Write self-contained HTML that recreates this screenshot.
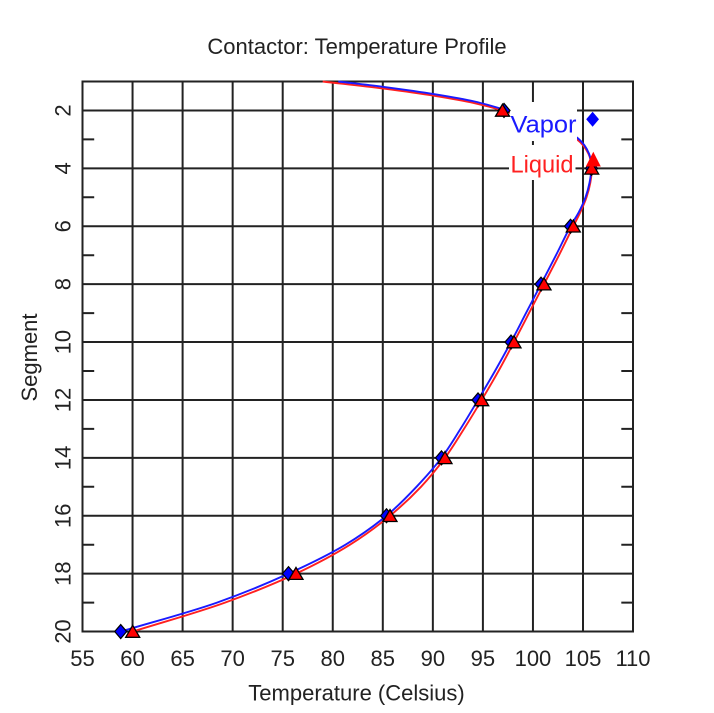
<!DOCTYPE html>
<html><head><meta charset="utf-8"><style>
html,body{margin:0;padding:0;background:#fff;}
svg{display:block;}
text{font-family:"Liberation Sans",Arial,sans-serif;}
</style></head><body>
<svg id="chart" width="714" height="713" viewBox="0 0 714 713" xmlns="http://www.w3.org/2000/svg">
<rect width="714" height="713" fill="#fff"/>
<text x="357" y="54" font-size="22" text-anchor="middle" fill="#222">Contactor: Temperature Profile</text>
<g stroke="#222" stroke-width="2" fill="none">
<rect x="82.5" y="81.5" width="550.5" height="550"/>
<line x1="132.55" y1="81.5" x2="132.55" y2="631.5"/>
<line x1="182.6" y1="81.5" x2="182.6" y2="631.5"/>
<line x1="232.65" y1="81.5" x2="232.65" y2="631.5"/>
<line x1="282.7" y1="81.5" x2="282.7" y2="631.5"/>
<line x1="332.75" y1="81.5" x2="332.75" y2="631.5"/>
<line x1="382.8" y1="81.5" x2="382.8" y2="631.5"/>
<line x1="432.85" y1="81.5" x2="432.85" y2="631.5"/>
<line x1="482.9" y1="81.5" x2="482.9" y2="631.5"/>
<line x1="532.95" y1="81.5" x2="532.95" y2="631.5"/>
<line x1="583" y1="81.5" x2="583" y2="631.5"/>
<line x1="82.5" y1="110.45" x2="633" y2="110.45"/>
<line x1="82.5" y1="168.35" x2="633" y2="168.35"/>
<line x1="82.5" y1="226.25" x2="633" y2="226.25"/>
<line x1="82.5" y1="284.15" x2="633" y2="284.15"/>
<line x1="82.5" y1="342.05" x2="633" y2="342.05"/>
<line x1="82.5" y1="399.95" x2="633" y2="399.95"/>
<line x1="82.5" y1="457.85" x2="633" y2="457.85"/>
<line x1="82.5" y1="515.75" x2="633" y2="515.75"/>
<line x1="82.5" y1="573.65" x2="633" y2="573.65"/>
<path d="M82.5 139.4h11.7M82.5 197.3h11.7M82.5 255.2h11.7M82.5 313.1h11.7M82.5 371h11.7M82.5 428.9h11.7M82.5 486.8h11.7M82.5 544.7h11.7M82.5 602.6h11.7"/>
<path d="M621.3 139.4h11.7M621.3 197.3h11.7M621.3 255.2h11.7M621.3 313.1h11.7M621.3 371h11.7M621.3 428.9h11.7M621.3 486.8h11.7M621.3 544.7h11.7M621.3 602.6h11.7"/>
</g>
<g font-size="22" fill="#222" text-anchor="middle">
<text x="82.5" y="666">55</text>
<text x="132.55" y="666">60</text>
<text x="182.6" y="666">65</text>
<text x="232.65" y="666">70</text>
<text x="282.7" y="666">75</text>
<text x="332.75" y="666">80</text>
<text x="382.8" y="666">85</text>
<text x="432.85" y="666">90</text>
<text x="482.9" y="666">95</text>
<text x="532.95" y="666">100</text>
<text x="583" y="666">105</text>
<text x="633" y="666">110</text>
<text x="70.5" y="110.45" transform="rotate(-90 70.5 110.45)">2</text>
<text x="70.5" y="168.35" transform="rotate(-90 70.5 168.35)">4</text>
<text x="70.5" y="226.25" transform="rotate(-90 70.5 226.25)">6</text>
<text x="70.5" y="284.15" transform="rotate(-90 70.5 284.15)">8</text>
<text x="70.5" y="342.05" transform="rotate(-90 70.5 342.05)">10</text>
<text x="70.5" y="399.95" transform="rotate(-90 70.5 399.95)">12</text>
<text x="70.5" y="457.85" transform="rotate(-90 70.5 457.85)">14</text>
<text x="70.5" y="515.75" transform="rotate(-90 70.5 515.75)">16</text>
<text x="70.5" y="573.65" transform="rotate(-90 70.5 573.65)">18</text>
<text x="70.5" y="631.55" transform="rotate(-90 70.5 631.55)">20</text>
<text x="356.5" y="700.5">Temperature (Celsius)</text>
<text x="37" y="357.5" transform="rotate(-90 37 357.5)">Segment</text>
</g>
<g id="curves" fill="none" stroke-width="1.9" stroke-linejoin="round">
<polyline id="liq" stroke="#ff2020" points="322.7,81.5 384.6,88.74 435.2,95.98 474.6,103.21 502.6,110.45 545,124.9 577,139.4 588.5,153.9 591.7,168.35 590.3,182.8 586.5,197.3 580.5,211.8 573.3,226.25 559,255.2 544,284.15 529,313.1 514,342.05 498.5,371 481.7,399.95 464,428.9 445,457.85 421,486.8 390,515.75 350,544.7 296,573.65 225,602.6 132.7,631.55"/>
<polyline id="vap" stroke="#1a1aff" points="338.3,81.5 384.6,87.04 435.2,94.28 474.6,101.5 504.5,109.7 547,123.6 578,138.4 589,153.6 591.3,168.35 589.5,182.8 585.5,197.3 579,211.8 570.5,226.25 556,255.2 541,284.15 526,313.1 511,342.05 495,371 478,399.95 460.5,428.9 441.5,457.85 416.5,486.8 386.5,515.75 345.5,544.7 288.5,573.65 217,602.6 120.7,631.55"/>
</g>
<rect x="510" y="102" width="67" height="39" fill="#fff"/>
<rect x="509" y="145" width="66.5" height="35" fill="#fff"/>
<text x="510.5" y="132.5" font-size="24" fill="#1a1aff" textLength="66" lengthAdjust="spacingAndGlyphs">Vapor</text>
<text x="510.5" y="172.5" font-size="24" fill="#ff2020" textLength="63" lengthAdjust="spacingAndGlyphs">Liquid</text>
<g fill="#0000ff" stroke="#000" stroke-width="1.2">
<polygon points="504,103.45 510,110.45 504,117.45 498,110.45"/>
<polygon points="591.5,161.35 597.5,168.35 591.5,175.35 585.5,168.35"/>
<polygon points="570.5,219.25 576.5,226.25 570.5,233.25 564.5,226.25"/>
<polygon points="541,277.15 547,284.15 541,291.15 535,284.15"/>
<polygon points="511,335.05 517,342.05 511,349.05 505,342.05"/>
<polygon points="478,392.95 484,399.95 478,406.95 472,399.95"/>
<polygon points="441.5,450.85 447.5,457.85 441.5,464.85 435.5,457.85"/>
<polygon points="386.5,508.75 392.5,515.75 386.5,522.75 380.5,515.75"/>
<polygon points="288.5,566.65 294.5,573.65 288.5,580.65 282.5,573.65"/>
<polygon points="120.7,624.55 126.7,631.55 120.7,638.55 114.7,631.55"/>
</g>
<g fill="#ff0000" stroke="#000" stroke-width="1.3" stroke-linejoin="miter">
<polygon points="502.5,104.2 509.5,116.2 495.5,116.2"/>
<polygon points="591.7,162.1 598.7,174.1 584.7,174.1"/>
<polygon points="573.3,220 580.3,232 566.3,232"/>
<polygon points="544,277.9 551,289.9 537,289.9"/>
<polygon points="514,335.8 521,347.8 507,347.8"/>
<polygon points="481.7,393.7 488.7,405.7 474.7,405.7"/>
<polygon points="445,451.6 452,463.6 438,463.6"/>
<polygon points="390,509.5 397,521.5 383,521.5"/>
<polygon points="296,567.4 303,579.4 289,579.4"/>
<polygon points="132.7,625.3 139.7,637.3 125.7,637.3"/>
</g>
<polygon points="592.6,111.8 599,119.3 592.6,126.8 586.2,119.3" fill="#0000ff"/>
<polygon points="593.3,151.7 600.8,166.5 585.8,166.5" fill="#ff0000"/>
</svg>
<script>
(function(){
  try{
    var NS="http://www.w3.org/2000/svg";
    ["liq","vap"].forEach(function(id){
      var pl=document.getElementById(id);
      if(!pl) return;
      var raw=pl.getAttribute("points").trim().split(/\s+/).map(function(s){var a=s.split(",");return [parseFloat(a[0]),parseFloat(a[1])];});
      var n=raw.length; if(n<3) return;
      var P=[ [2*raw[0][0]-raw[1][0],2*raw[0][1]-raw[1][1]] ].concat(raw).concat([[2*raw[n-1][0]-raw[n-2][0],2*raw[n-1][1]-raw[n-2][1]]]);
      function dist(a,b){var dx=a[0]-b[0],dy=a[1]-b[1];return Math.pow(Math.sqrt(dx*dx+dy*dy)||1e-6,0.5);}
      var d="M"+raw[0][0].toFixed(2)+" "+raw[0][1].toFixed(2);
      for(var i=1;i<P.length-2;i++){
        var p0=P[i-1],p1=P[i],p2=P[i+1],p3=P[i+2];
        var t0=dist(p0,p1),t1=dist(p1,p2),t2=dist(p2,p3);
        var m1=[],m2=[];
        for(var k=0;k<2;k++){
          m1[k]=t1*((p1[k]-p0[k])/t0-(p2[k]-p0[k])/(t0+t1)+(p2[k]-p1[k])/t1);
          m2[k]=t1*((p2[k]-p1[k])/t1-(p3[k]-p1[k])/(t1+t2)+(p3[k]-p2[k])/t2);
        }
        d+=" C"+(p1[0]+m1[0]/3).toFixed(2)+" "+(p1[1]+m1[1]/3).toFixed(2)+" "+(p2[0]-m2[0]/3).toFixed(2)+" "+(p2[1]-m2[1]/3).toFixed(2)+" "+p2[0].toFixed(2)+" "+p2[1].toFixed(2);
      }
      var path=document.createElementNS(NS,"path");
      path.setAttribute("d",d);
      path.setAttribute("stroke",pl.getAttribute("stroke"));
      pl.parentNode.insertBefore(path,pl);
      pl.parentNode.removeChild(pl);
    });
  }catch(e){}
})();
</script>
</body></html>
